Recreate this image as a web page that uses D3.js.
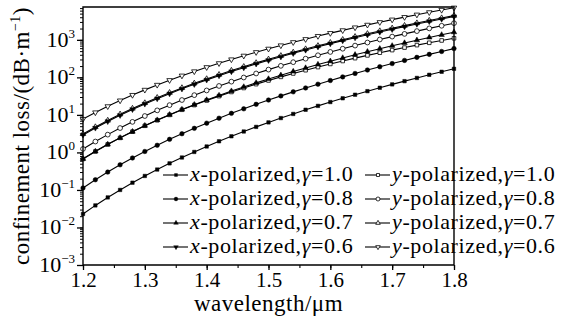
<!DOCTYPE html>
<html>
<head>
<meta charset="utf-8">
<script src="https://cdn.jsdelivr.net/npm/d3@7"></script>
<style>
  html, body { margin: 0; padding: 0; background: #fff; }
  svg { display: block; }
  text { font-family: "Liberation Serif", "Times New Roman", serif; fill: #000; }
</style>
</head>
<body>
<svg id="chart" width="565" height="322"></svg>
<script>
// Wavelength samples (µm)
const wavelengths = [1.20, 1.22, 1.24, 1.26, 1.28, 1.30, 1.32, 1.34, 1.36, 1.38,
  1.40, 1.42, 1.44, 1.46, 1.48, 1.50, 1.52, 1.54, 1.56, 1.58,
  1.60, 1.62, 1.64, 1.66, 1.68, 1.70, 1.72, 1.74, 1.76, 1.78, 1.80];

// Confinement loss (dB/m), x-polarized mode
const xPol10 = [0.0229, 0.0387, 0.0632, 0.100, 0.156, 0.236, 0.350, 0.511, 0.732, 1.03,
  1.44, 1.98, 2.69, 3.61, 4.79, 6.31, 8.23, 10.6, 13.7, 17.4,
  22.0, 27.7, 34.5, 42.9, 52.9, 65.0, 79.3, 96.5, 117, 141, 169];
const xPol08 = [0.113, 0.187, 0.299, 0.467, 0.711, 1.06, 1.55, 2.23, 3.15, 4.38,
  6.02, 8.17, 11.0, 14.5, 19.1, 24.9, 32.1, 41.1, 52.2, 65.9,
  82.6, 103, 127, 157, 192, 233, 283, 341, 410, 490, 584];
const xPol07 = [0.676, 1.07, 1.64, 2.45, 3.59, 5.17, 7.29, 10.1, 13.9, 18.7,
  25.0, 33.0, 43.1, 55.7, 71.4, 90.8, 114, 143, 178, 220,
  270, 329, 400, 483, 580, 694, 826, 979, 1160, 1360, 1600];
const xPol06 = [2.93, 4.49, 6.70, 9.78, 14.0, 19.6, 27.1, 36.8, 49.4, 65.5,
  85.7, 111, 143, 181, 229, 286, 355, 438, 537, 654,
  792, 954, 1140, 1360, 1620, 1910, 2250, 2640, 3090, 3590, 4170];

// Confinement loss (dB/m), y-polarized mode
const yPol10 = [0.67, 1.06, 1.63, 2.44, 3.57, 5.13, 7.22, 10.0, 13.7, 18.3,
  24.2, 31.6, 40.8, 52.1, 66.0, 82.7, 103, 127, 155, 188,
  228, 273, 325, 385, 454, 533, 622, 723, 835, 962, 1100];
const yPol08 = [1.24, 1.95, 2.98, 4.46, 6.52, 9.34, 13.2, 18.2, 24.9, 33.6,
  44.8, 59.0, 76.9, 99.2, 127, 161, 203, 254, 315, 388,
  476, 580, 703, 848, 1020, 1220, 1440, 1710, 2020, 2370, 2780];
const yPol07 = [3.11, 4.76, 7.10, 10.4, 14.8, 20.8, 28.7, 39.0, 52.4, 69.4,
  90.8, 118, 152, 192, 243, 303, 376, 464, 569, 693,
  840, 1010, 1210, 1450, 1720, 2030, 2390, 2800, 3270, 3810, 4420];
const yPol06 = [7.76, 11.6, 16.9, 24.1, 33.8, 46.4, 62.9, 84.0, 111, 144,
  186, 237, 300, 376, 468, 577, 708, 863, 1040, 1260,
  1510, 1790, 2130, 2510, 2950, 3450, 4030, 4680, 5410, 6250, 7180];

// Axis ticks
const xTickValues = [1.2, 1.3, 1.4, 1.5, 1.6, 1.7, 1.8];
const yTickExponents = [-3, -2, -1, 0, 1, 2, 3];

// Legend entries: polarization letter and gamma value
const legendPols = ["x", "x", "x", "x", "y", "y", "y", "y"];
const legendGammas = ["1.0", "0.8", "0.7", "0.6", "1.0", "0.8", "0.7", "0.6"];

const seriesValues = [xPol10, xPol08, xPol07, xPol06, yPol10, yPol08, yPol07, yPol06];
const seriesSymbols = [
  { type: d3.symbolSquare, size: 12, filled: true, rot: 0 },
  { type: d3.symbolCircle, size: 16, filled: true, rot: 0 },
  { type: d3.symbolTriangle, size: 13, filled: true, rot: 0 },
  { type: d3.symbolTriangle, size: 13, filled: true, rot: 180 },
  { type: d3.symbolSquare, size: 13, filled: false, rot: 0 },
  { type: d3.symbolCircle, size: 18, filled: false, rot: 0 },
  { type: d3.symbolTriangle, size: 13, filled: false, rot: 0 },
  { type: d3.symbolTriangle, size: 13, filled: false, rot: 180 }
];
// draw order: back to front
const drawOrder = [0, 1, 4, 2, 5, 6, 3, 7];

const svg = d3.select("#chart");
const plotLeft = 83, plotRight = 454, plotTop = 7, plotBottom = 265;

const x = d3.scaleLinear().domain([1.2, 1.8]).range([plotLeft, plotRight]);
const y = d3.scaleLog().domain([1e-3, 7500]).range([plotBottom, plotTop]);

// Minor ticks
const xMinor = d3.range(1.2, 1.8001, 0.05).map(v => +v.toFixed(2));
const yMinor = [];
for (let e = -3; e <= 3; e++) for (let m = 1; m <= 9; m++) {
  const v = m * Math.pow(10, e);
  if (v <= 7500) yMinor.push(v);
}

const axisStroke = 1.4;

svg.append("g")
  .attr("transform", `translate(0,${plotBottom})`)
  .call(d3.axisBottom(x).tickValues(xMinor).tickSize(3).tickSizeOuter(0).tickFormat(""))
  .call(g => g.select(".domain").remove())
  .call(g => g.selectAll("line").attr("stroke", "#000").attr("stroke-width", 1.1));

svg.append("g")
  .attr("transform", `translate(0,${plotBottom})`)
  .call(d3.axisBottom(x).tickValues(xTickValues).tickSize(5).tickSizeOuter(0).tickFormat(d3.format(".1f")))
  .call(g => g.select(".domain").remove())
  .call(g => g.selectAll("line").attr("stroke", "#000").attr("stroke-width", 1.3))
  .call(g => g.selectAll("text")
    .attr("y", 22).attr("dy", 0)
    .style("font-size", "21px")
    .style("font-family", "'Liberation Serif', 'Times New Roman', serif")
    .attr("fill", "#000"));

svg.append("g")
  .attr("transform", `translate(${plotLeft},0)`)
  .call(d3.axisLeft(y).tickValues(yMinor).tickSize(3).tickSizeOuter(0).tickFormat(""))
  .call(g => g.select(".domain").remove())
  .call(g => g.selectAll("line").attr("stroke", "#000").attr("stroke-width", 1));

svg.append("g")
  .attr("transform", `translate(${plotLeft},0)`)
  .call(d3.axisLeft(y).tickValues(yTickExponents.map(e => Math.pow(10, e))).tickSize(6).tickSizeOuter(0).tickFormat(""))
  .call(g => g.select(".domain").remove())
  .call(g => g.selectAll("line").attr("stroke", "#000").attr("stroke-width", 1.3));

// Power-of-ten labels
const yLabels = svg.append("g");
yTickExponents.forEach(e => {
  const t = yLabels.append("text")
    .attr("x", 75).attr("y", y(Math.pow(10, e)) + 7)
    .attr("text-anchor", "end")
    .style("font-size", "22px");
  t.append("tspan").text("10");
  t.append("tspan").attr("dy", -9).style("font-size", "13px")
    .text(e < 0 ? "\u2212" + (-e) : String(e));
});

// Series
const line = d3.line().x((d, i) => x(wavelengths[i])).y(d => y(d));
const plot = svg.append("g");
drawOrder.forEach(si => {
  const vals = seriesValues[si];
  const sym = seriesSymbols[si];
  const g = plot.append("g");
  g.append("path").datum(vals)
    .attr("d", line)
    .attr("fill", "none").attr("stroke", "#000").attr("stroke-width", 1.1);
  g.selectAll("path.mk").data(vals).join("path")
    .attr("class", "mk")
    .attr("d", d3.symbol().type(sym.type).size(sym.size))
    .attr("transform", (d, i) => `translate(${x(wavelengths[i])},${y(d)}) rotate(${sym.rot})`)
    .attr("fill", sym.filled ? "#000" : "#fff")
    .attr("stroke", "#000").attr("stroke-width", sym.filled ? 0.5 : 0.8);
});

// Legend
const legend = svg.append("g");
const colSym = [163, 365], colText = [190, 392];
const rowY = [175, 199, 223, 247];
legendPols.forEach((p, i) => {
  const col = i < 4 ? 0 : 1, row = i % 4;
  const cy = rowY[row];
  const sym = seriesSymbols[i];
  legend.append("line")
    .attr("x1", colSym[col]).attr("x2", colSym[col] + 25)
    .attr("y1", cy).attr("y2", cy)
    .attr("stroke", "#000").attr("stroke-width", 1.1);
  legend.append("path")
    .attr("d", d3.symbol().type(sym.type).size(sym.size * 0.7)())
    .attr("transform", `translate(${colSym[col] + 13},${cy}) rotate(${sym.rot})`)
    .attr("fill", sym.filled ? "#000" : "#fff")
    .attr("stroke", "#000").attr("stroke-width", sym.filled ? 0.4 : 0.8);
  const t = legend.append("text")
    .attr("x", colText[col]).attr("y", cy + 6)
    .style("font-size", "22px").style("letter-spacing", "0.6px");
  t.append("tspan").style("font-style", "italic").text(p);
  t.append("tspan").text("-polarized,");
  t.append("tspan").style("font-style", "italic").text("\u03b3");
  t.append("tspan").text("=" + legendGammas[i]);
});

// Frame
svg.append("path")
  .attr("d", `M${plotLeft},${plotBottom}V${plotTop}H${plotRight}V${plotBottom}Z`)
  .attr("fill", "none").attr("stroke", "#000").attr("stroke-width", axisStroke);

// Axis titles
svg.append("text")
  .attr("x", (plotLeft + plotRight) / 2).attr("y", 311)
  .attr("text-anchor", "middle")
  .style("font-size", "23px").style("letter-spacing", "0.5px")
  .text("wavelength/\u03bcm");

const yt = svg.append("text")
  .attr("transform", `translate(29,${(plotTop + plotBottom) / 2}) rotate(-90)`)
  .attr("text-anchor", "middle")
  .style("font-size", "23px").style("letter-spacing", "0.5px");
yt.append("tspan").text("confinement loss/(dB\u00b7m");
yt.append("tspan").attr("dy", -9).style("font-size", "14px").text("\u22121");
yt.append("tspan").attr("dy", 9).text(")");
</script>
</body>
</html>
